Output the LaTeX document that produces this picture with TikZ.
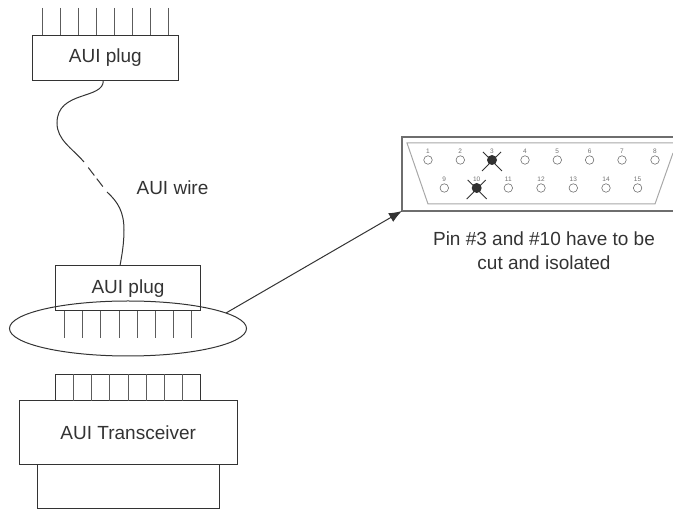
\documentclass[tikz,border=0pt]{standalone}
\usepackage{fontspec}
\setmainfont{Liberation Sans}
\usetikzlibrary{arrows.meta,shapes.geometric}
\definecolor{ink}{HTML}{333333}
\definecolor{shell}{HTML}{6E6E6E}
\definecolor{inner}{HTML}{A8A8A8}
\definecolor{hole}{HTML}{707070}
\tikzset{>=Latex,block/.style={draw=ink,line width=1pt,inner sep=0pt,outer sep=0pt,text=ink,font=\fontsize{19}{21}\selectfont},pin/.style={draw=ink!80,line width=1pt},wire/.style={draw=ink,line width=1pt},caption/.style={text=ink,font=\fontsize{19}{24}\selectfont,align=center,inner sep=0pt},socket/.style={circle,draw=hole,line width=.6pt,minimum size=8.5pt,inner sep=0pt},cutpin/.style={circle,fill=ink!95!black,minimum size=10pt,inner sep=0pt},pinno/.style={text=hole,font=\fontsize{6.5}{7}\selectfont,inner sep=0pt}}
\begin{document}
\begin{tikzpicture}[x=1pt,y=-1pt]
\useasboundingbox (0,0) rectangle (673,510);
\node[block,minimum width=146pt,minimum height=45pt] (plugtop) at (105.3,57.8) {AUI plug};
\node[block,minimum width=145.4pt,minimum height=45.3pt] (plugbot) at (128,288.3) {AUI plug};
\node[block,draw=ink,fill=none,ellipse,minimum width=237pt,minimum height=55pt] (oval) at (128,328.5) {};
\node[block,minimum width=145.4pt,minimum height=26.7pt] (trtop) at (128,387.6) {};
\node[block,minimum width=217.7pt,minimum height=63.3pt] (trans) at (128.2,432.6) {AUI Transceiver};
\node[block,minimum width=182pt,minimum height=44.7pt] (trbot) at (128.3,486.6) {};
\foreach \x in {42.3,60.3,78.3,96.3,114.3,132.4,150.6,168.7}{\draw[pin] (\x,8)--(\x,35.3);}
\foreach \x in {64.3,82.6,100.9,119,137,155,173.3,191.4}{\draw[pin] (\x,311)--(\x,338);}
\foreach \x in {73.7,91.7,109.7,128,146,164,182.3}{\draw[pin] (\x,374.3)--(\x,401);}
% wire between the plugs
\coordinate (wiretop) at (103.3,80.3);
\coordinate (gapa) at (84,162);
\coordinate (gapb) at (107,192);
\coordinate (wirebot) at (120,265.7);
\draw[wire] (wiretop) .. controls (104,100) and (57,90) .. (57,123) .. controls (57,140) and (72,148) .. (gapa);
\draw[wire,dash pattern=on 10pt off 4pt on 10pt off 14pt,dash phase=31pt] (gapa)--(gapb);
\draw[wire] (gapb) .. controls (118,202) and (124,212) .. (124,230) .. controls (124,243) and (122,255) .. (wirebot);
\node[block,draw=none] (wirelabel) at (172.5,188) {AUI wire};
% sub-d connector
\coordinate (dsw) at (402,211);
\coordinate (ovalend) at (226,313);
\draw[draw=shell,line width=1.5pt] (673,137)--(402,137)--(dsw)--(673,211);
\draw[draw=inner,line width=1pt] (673,143)--(407,143)--(428,204)--(655,204)--(673,153);
\foreach \n/\x in {1/428,2/460.3,4/525,5/557.3,6/589.6,7/622,8/655}{
  \node[socket] (s\n) at (\x,160) {};
  \node[pinno] (n\n) at (\x,151) {\n};
}
\foreach \n/\x in {9/444.3,11/508.3,12/541,13/573.3,14/606,15/637.6}{
  \node[socket] (s\n) at (\x,188) {};
  \node[pinno] (n\n) at (\x,179) {\n};
}
\foreach \n/\x/\y in {3/492/160,10/476.7/188}{
  \node[pinno] (n\n) at (\x,\y-9) {\n};
  \node[cutpin] (s\n) at (\x,\y) {};
  \draw[draw=ink,line width=.9pt] (\x-9,\y-8)--(\x+10,\y+11);
  \draw[draw=ink,line width=.9pt] (\x+9,\y-8)--(\x-10,\y+11);
}
\node[caption] (note) at (544,251) {Pin \#3 and \#10 have to be\\cut and isolated};
\draw[draw=ink,line width=1pt,-{Latex[length=13pt,width=10pt]}] (ovalend)--(dsw);
\end{tikzpicture}
\end{document}
